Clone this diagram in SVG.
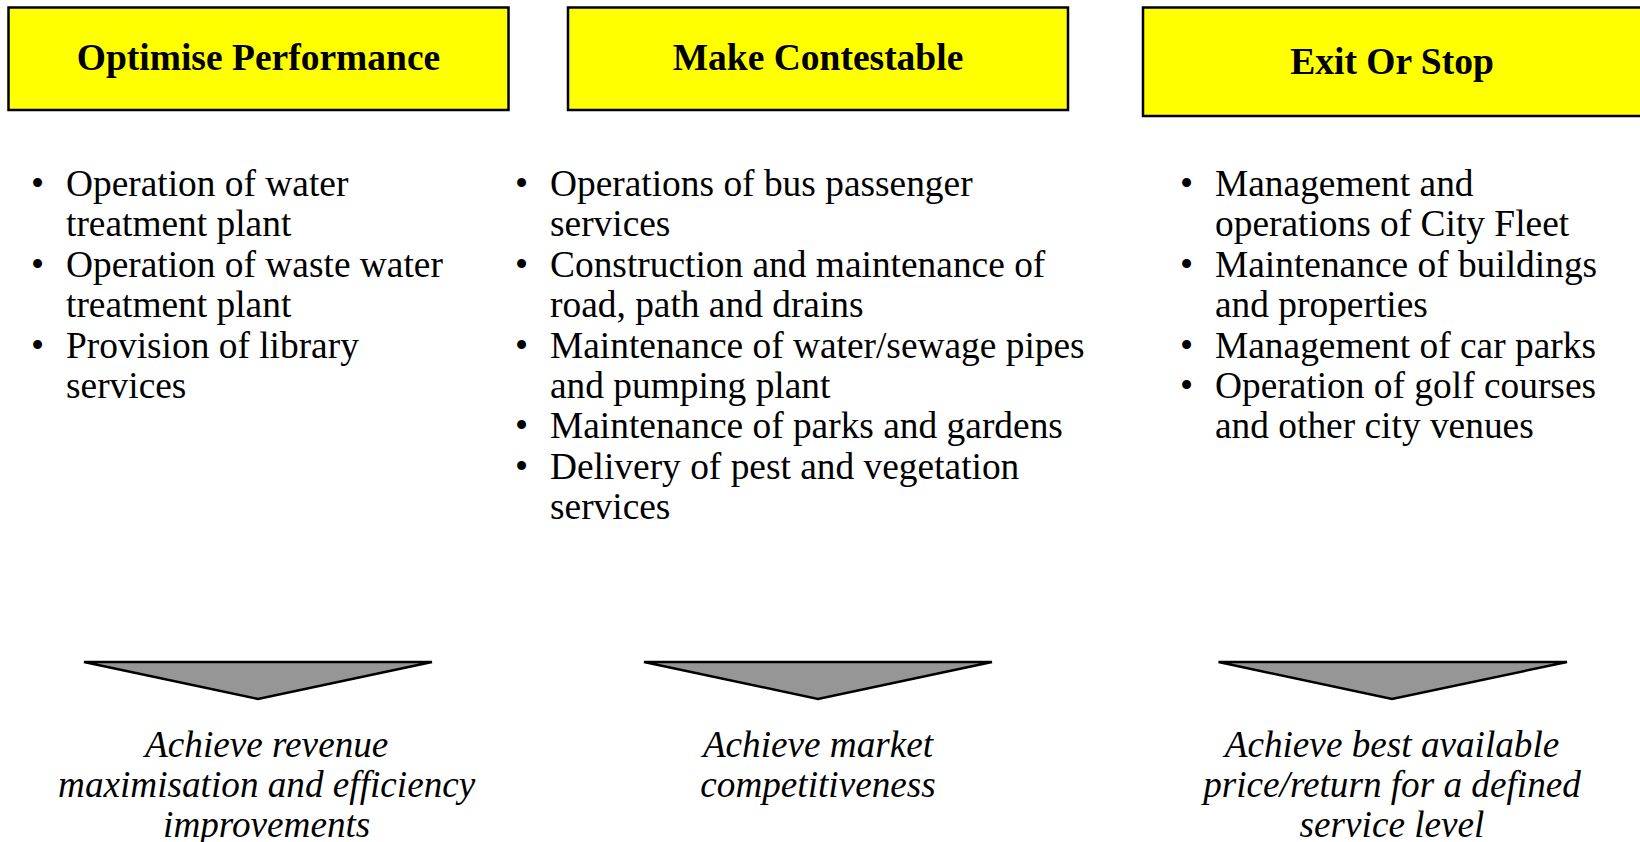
<svg xmlns="http://www.w3.org/2000/svg" width="1640" height="842" viewBox="0 0 1640 842">
<style>
.box{fill:#ffff00;stroke:#000;stroke-width:2.5}
.title{font-family:"Liberation Serif","Times New Roman",serif;font-weight:bold;font-size:37.5px;text-anchor:middle;fill:#000}
.item{font-family:"Liberation Serif","Times New Roman",serif;font-size:37.4px;fill:#000}
.goal{font-family:"Liberation Serif","Times New Roman",serif;font-style:italic;font-size:37.2px;text-anchor:middle;fill:#000}
.tri{fill:#969696;stroke:#000;stroke-width:2.5;stroke-linejoin:miter}
</style>
<rect width="1640" height="842" fill="#fff"/>
<g id="optimise">
<rect class="box" x="8.5" y="7.5" width="500" height="102.5"/>
<text class="title" x="258.5" y="70">Optimise Performance</text>
<text class="item" x="31" y="196">•</text>
<text class="item" x="66" y="196">Operation of water</text>
<text class="item" x="66" y="236.4">treatment plant</text>
<text class="item" x="31" y="276.8">•</text>
<text class="item" x="66" y="276.8">Operation of waste water</text>
<text class="item" x="66" y="317.2">treatment plant</text>
<text class="item" x="31" y="357.6">•</text>
<text class="item" x="66" y="357.6">Provision of library</text>
<text class="item" x="66" y="398">services</text>
<polygon class="tri" points="84,662 432,662 258,699"/>
<text class="goal" x="266.7" y="757">Achieve revenue</text>
<text class="goal" x="266.7" y="797">maximisation and efficiency</text>
<text class="goal" x="266.7" y="837">improvements</text>
</g>
<g id="contestable">
<rect class="box" x="568" y="7.5" width="500" height="102.5"/>
<text class="title" x="818" y="70">Make Contestable</text>
<text class="item" x="515" y="196">•</text>
<text class="item" x="550" y="196">Operations of bus passenger</text>
<text class="item" x="550" y="236.4">services</text>
<text class="item" x="515" y="276.8">•</text>
<text class="item" x="550" y="276.8">Construction and maintenance of</text>
<text class="item" x="550" y="317.2">road, path and drains</text>
<text class="item" x="515" y="357.6">•</text>
<text class="item" x="550" y="357.6">Maintenance of water/sewage pipes</text>
<text class="item" x="550" y="398">and pumping plant</text>
<text class="item" x="515" y="438.4">•</text>
<text class="item" x="550" y="438.4">Maintenance of parks and gardens</text>
<text class="item" x="515" y="478.8">•</text>
<text class="item" x="550" y="478.8">Delivery of pest and vegetation</text>
<text class="item" x="550" y="519.2">services</text>
<polygon class="tri" points="644,662 992,662 818,699"/>
<text class="goal" x="818" y="757">Achieve market</text>
<text class="goal" x="818" y="797">competitiveness</text>
</g>
<g id="exit">
<rect class="box" x="1143" y="7.5" width="500" height="108.5"/>
<text class="title" x="1392" y="74">Exit Or Stop</text>
<text class="item" x="1180" y="196">•</text>
<text class="item" x="1215" y="196">Management and</text>
<text class="item" x="1215" y="236.4">operations of City Fleet</text>
<text class="item" x="1180" y="276.8">•</text>
<text class="item" x="1215" y="276.8">Maintenance of buildings</text>
<text class="item" x="1215" y="317.2">and properties</text>
<text class="item" x="1180" y="357.6">•</text>
<text class="item" x="1215" y="357.6">Management of car parks</text>
<text class="item" x="1180" y="398">•</text>
<text class="item" x="1215" y="398">Operation of golf courses</text>
<text class="item" x="1215" y="438.4">and other city venues</text>
<polygon class="tri" points="1218.5,662 1567,662 1392,699"/>
<text class="goal" x="1392" y="757">Achieve best available</text>
<text class="goal" x="1392" y="797">price/return for a defined</text>
<text class="goal" x="1392" y="837">service level</text>
</g>
<g id="connectors"></g>
</svg>
